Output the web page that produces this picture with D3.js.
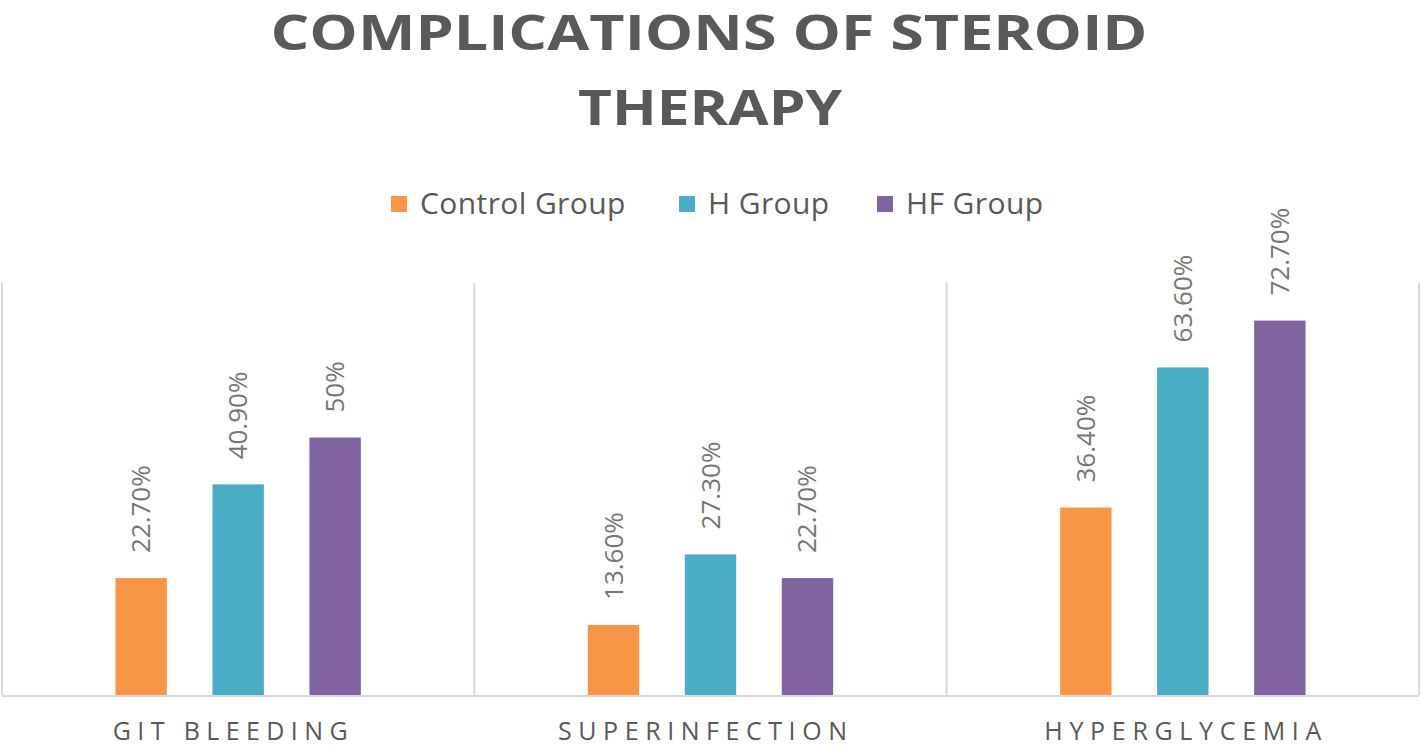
<!DOCTYPE html>
<html><head><meta charset="utf-8">
<script src="https://cdn.jsdelivr.net/npm/d3@7"></script>
<style>body{margin:0;background:#fff;} svg{display:block;font-family:"Open Sans",sans-serif;}</style>
</head><body>
<svg id="chart" width="1422" height="748"></svg>
<script>
const categories = ["GIT BLEEDING", "SUPERINFECTION", "HYPERGLYCEMIA"];
const seriesNames = ["Control Group", "H Group", "HF Group"];
const controlValues = [22.7, 13.6, 36.4];
const hValues = [40.9, 27.3, 63.6];
const hfValues = [50, 22.7, 72.7];
const valueLabels = [["22.70%", "13.60%", "36.40%"], ["40.90%", "27.30%", "63.60%"], ["50%", "22.70%", "72.70%"]];
const colors = ["#F79646", "#4BACC6", "#8064A2"];
const titleLines = ["COMPLICATIONS OF STEROID", "THERAPY"];

const seriesValues = [controlValues, hValues, hfValues];
const svg = d3.select("#chart");
const plot = {left: 2, right: 1419, top: 283, bottom: 695};

const x0 = d3.scaleBand().domain(categories).range([plot.left, plot.right]).padding(0);
const x1 = d3.scaleBand().domain(seriesNames).range([0, x0.bandwidth()]).paddingInner(0.47).paddingOuter(1.17);
const y = d3.scaleLinear().domain([0, 80]).range([plot.bottom, plot.top]);

// Title
const title = svg.append("g");
title.append("text").attr("x", 709).attr("y", 50).attr("text-anchor", "middle")
  .attr("font-size", 48).attr("font-weight", 700).attr("fill", "#595959")
  .attr("textLength", 877).attr("lengthAdjust", "spacingAndGlyphs").text(titleLines[0]);
title.append("text").attr("x", 710).attr("y", 125).attr("text-anchor", "middle")
  .attr("font-size", 48).attr("font-weight", 700).attr("fill", "#595959")
  .attr("textLength", 264).attr("lengthAdjust", "spacingAndGlyphs").text(titleLines[1]);

// Legend
const legendX = [391, 679, 877];
const lg = svg.append("g");
seriesNames.forEach((s, i) => {
  lg.append("rect").attr("x", legendX[i]).attr("y", 196).attr("width", 16).attr("height", 16).attr("fill", colors[i]);
  lg.append("text").attr("x", legendX[i] + 29).attr("y", 214).attr("font-size", 30)
    .attr("letter-spacing", 0.4).attr("fill", "#595959").text(s);
});

// Vertical gridlines (category separators)
const sepX = [plot.left].concat(categories.map(c => x0(c) + x0.bandwidth()));
svg.append("g").selectAll("line").data(sepX).join("line")
  .attr("x1", d => d).attr("x2", d => d).attr("y1", plot.top).attr("y2", plot.bottom)
  .attr("stroke", "#d9d9d9").attr("stroke-width", 2);

// Bars
const groups = svg.append("g").selectAll("g").data(categories).join("g")
  .attr("transform", d => `translate(${x0(d)},0)`);
groups.each(function(cat, ci) {
  const g = d3.select(this);
  seriesNames.forEach((s, si) => {
    const v = seriesValues[si][ci];
    g.append("rect").attr("x", x1(s)).attr("y", y(v)).attr("width", x1.bandwidth())
      .attr("height", y(0) - y(v)).attr("fill", colors[si]);
    const cx = x1(s) + x1.bandwidth() / 2;
    const ty = y(v) - 25;
    g.append("text").attr("transform", `translate(${cx + 9},${ty}) rotate(-90)`)
      .attr("font-size", 26).attr("fill", "#767676").attr("text-anchor", "start")
      .text(valueLabels[si][ci]);
  });
});

// Baseline
svg.append("line").attr("x1", plot.left).attr("x2", plot.right).attr("y1", plot.bottom + 1).attr("y2", plot.bottom + 1)
  .attr("stroke", "#d9d9d9").attr("stroke-width", 2);

// Category axis labels
const catWidths = [235, 289, 277];
svg.append("g").selectAll("text").data(categories).join("text")
  .attr("x", (d, i) => x0(d) + x0.bandwidth() / 2 + (i === 2 ? 0 : -8))
  .attr("y", 740).attr("text-anchor", "middle").attr("font-size", 25).attr("fill", "#595959")
  .attr("textLength", (d, i) => catWidths[i]).attr("lengthAdjust", "spacing")
  .text(d => d);
</script>
</body></html>
